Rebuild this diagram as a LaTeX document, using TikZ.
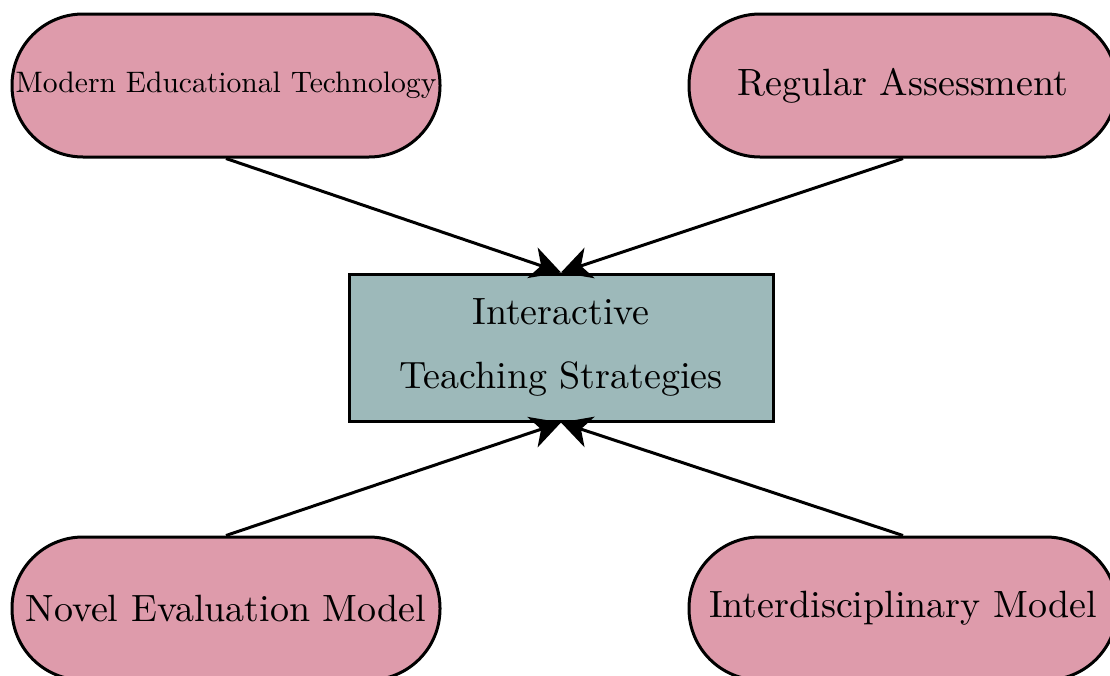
\documentclass[tikz,border=0pt]{standalone}
\usepackage{fontspec}
\setmainfont{lmroman10-regular}[Extension=.otf]
\usetikzlibrary{arrows.meta}
\definecolor{pinkfill}{HTML}{DE9BAB}
\definecolor{tealfill}{HTML}{9DB9BA}
\tikzset{
  outer/.style={draw=black, line width=3pt, fill=pinkfill, rectangle, rounded corners=71pt,
    minimum width=428pt, minimum height=143pt, inner sep=0pt,
    font=\fontsize{38}{46}\selectfont},
  center box/.style={draw=black, line width=3pt, fill=tealfill, rectangle,
    minimum width=424pt, minimum height=147pt, inner sep=0pt, align=center,
    font=\fontsize{38}{64}\selectfont},
  conn/.style={line width=3pt, -{Stealth[length=30pt, width=32pt, inset=9pt]}}
}
\begin{document}
\begin{tikzpicture}[x=1pt, y=-1pt]
\useasboundingbox (0,0) rectangle (1110,675);
\clip (0,0) rectangle (1110,675);
\node[outer] (tl) at (226,85.5) {\fontsize{29.6}{36}\selectfont Modern Educational Technology};
\node[outer] (tr) at (903,85.5) {Regular Assessment};
\node[outer] (bl) at (226,608.5) {Novel Evaluation Model};
\node[outer] (br) at (903,608.5) {Interdisciplinary Model};
\node[center box] (c) at (561,347.5) {Interactive\\Teaching Strategies};
\draw[conn] (tl.south) -- (c.north);
\draw[conn] (tr.south) -- (c.north);
\draw[conn] (bl.north) -- (c.south);
\draw[conn] (br.north) -- (c.south);
\end{tikzpicture}
\end{document}
